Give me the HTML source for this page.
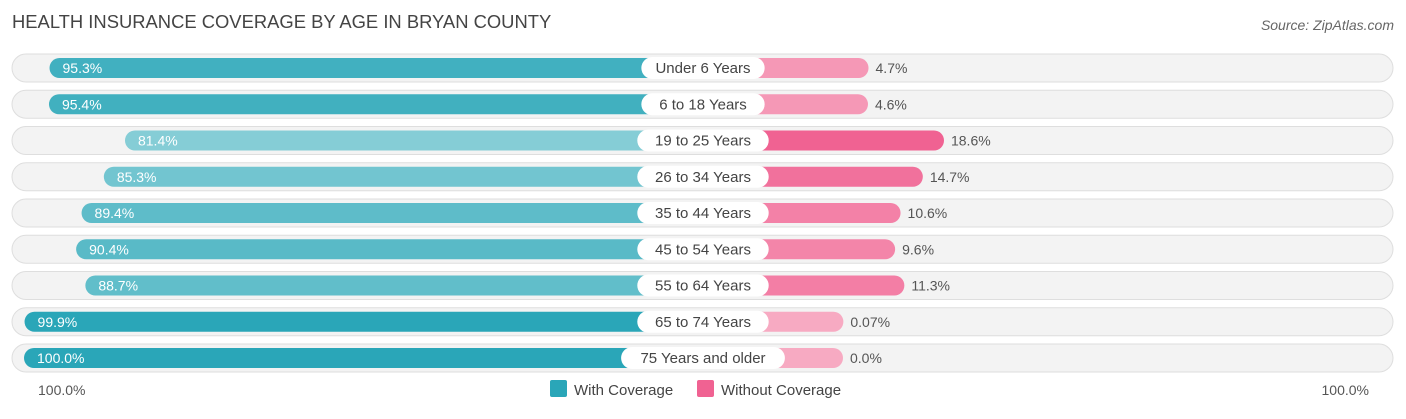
<!DOCTYPE html>
<html><head><meta charset="utf-8"><style>
body{margin:0;background:#fff;font-family:"Liberation Sans",sans-serif;}
svg text{font-family:"Liberation Sans",sans-serif;}
</style></head><body>
<svg width="1406" height="414" viewBox="0 0 1406 414">
<text x="12" y="28" font-size="18.4" fill="#444">HEALTH INSURANCE COVERAGE BY AGE IN BRYAN COUNTY</text>
<text x="1394" y="30" font-size="14" fill="#666" font-style="italic" text-anchor="end">Source: ZipAtlas.com</text>
<g id="rows"></g>
<text x="38" y="395" font-size="14" fill="#555">100.0%</text>
<text x="1369" y="395" font-size="14" fill="#555" text-anchor="end">100.0%</text>
<g><rect x="550" y="380" width="17" height="17" rx="2" fill="#2aa6b8"/><text x="574" y="395" font-size="15" fill="#444">With Coverage</text></g>
<g><rect x="697" y="380" width="17" height="17" rx="2" fill="#f06292"/><text x="721" y="395" font-size="15" fill="#444">Without Coverage</text></g>
</svg>
<script>
const categories=["Under 6 Years","6 to 18 Years","19 to 25 Years","26 to 34 Years","35 to 44 Years","45 to 54 Years","55 to 64 Years","65 to 74 Years","75 Years and older"];
const withCov=[95.3,95.4,81.4,85.3,89.4,90.4,88.7,99.9,100.0];
const withoutCov=[4.7,4.6,18.6,14.7,10.6,9.6,11.3,0.07,0.0];
const withLabels=["95.3%","95.4%","81.4%","85.3%","89.4%","90.4%","88.7%","99.9%","100.0%"];
const withoutLabels=["4.7%","4.6%","18.6%","14.7%","10.6%","9.6%","11.3%","0.07%","0.0%"];
const NS="http://www.w3.org/2000/svg";
const cx=703,offL=136,offR=140,sc=5.43,top0=68,step=36.25;
const xL=v=>cx-offL-v*sc, xR=v=>cx+offR+v*sc, yC=i=>top0+i*step;
function mix(a,b,t){return "rgb("+a.map((c,k)=>Math.round(c+(b[k]-c)*t)).join(",")+")";}
const g=document.getElementById("rows");
function el(tag,attrs,parent){const e=document.createElementNS(NS,tag);for(const k in attrs)e.setAttribute(k,attrs[k]);parent.appendChild(e);return e;}
categories.forEach((c,i)=>{
  const y=yC(i);
  const row=el("g",{},g);
  
  
  const bg=el("rect",{x:12,y:y-14,width:1381,height:28,rx:14,fill:"#f3f3f3",stroke:"#dedede"},row);
  
  
  const t=Math.max(0,Math.min(1,(100-withCov[i])/18.6));
  const lb=el("rect",{x:xL(withCov[i]),y:y-10,width:cx-xL(withCov[i]),height:20,rx:10,fill:mix([42,166,184],[133,205,214],t)},row);
  
  
  const t2=Math.max(0,Math.min(1,1-withoutCov[i]/18.6));
  const rb=el("rect",{x:cx,y:y-10,width:xR(withoutCov[i])-cx,height:20,rx:10,fill:mix([240,98,146],[247,170,194],t2)},row);
  
  
  const lt=el("text",{x:xL(withCov[i])+13,y:y+5,"font-size":14,fill:"#fff"},row);
  lt.textContent=withLabels[i];
  
  
  const rt=el("text",{x:xR(withoutCov[i])+7,y:y+5,"font-size":14,fill:"#555"},row);
  rt.textContent=withoutLabels[i];
  
  
  const w=c.length*8.1+18;
  const pill=el("rect",{x:cx-w/2,y:y-11,width:w,height:22,rx:11,fill:"#fff"},row);
  
  
  const ct=el("text",{x:cx,y:y+5,"font-size":15,fill:"#444","text-anchor":"middle"},row);
  ct.textContent=c;
  
  
});
</script>
</body></html>
